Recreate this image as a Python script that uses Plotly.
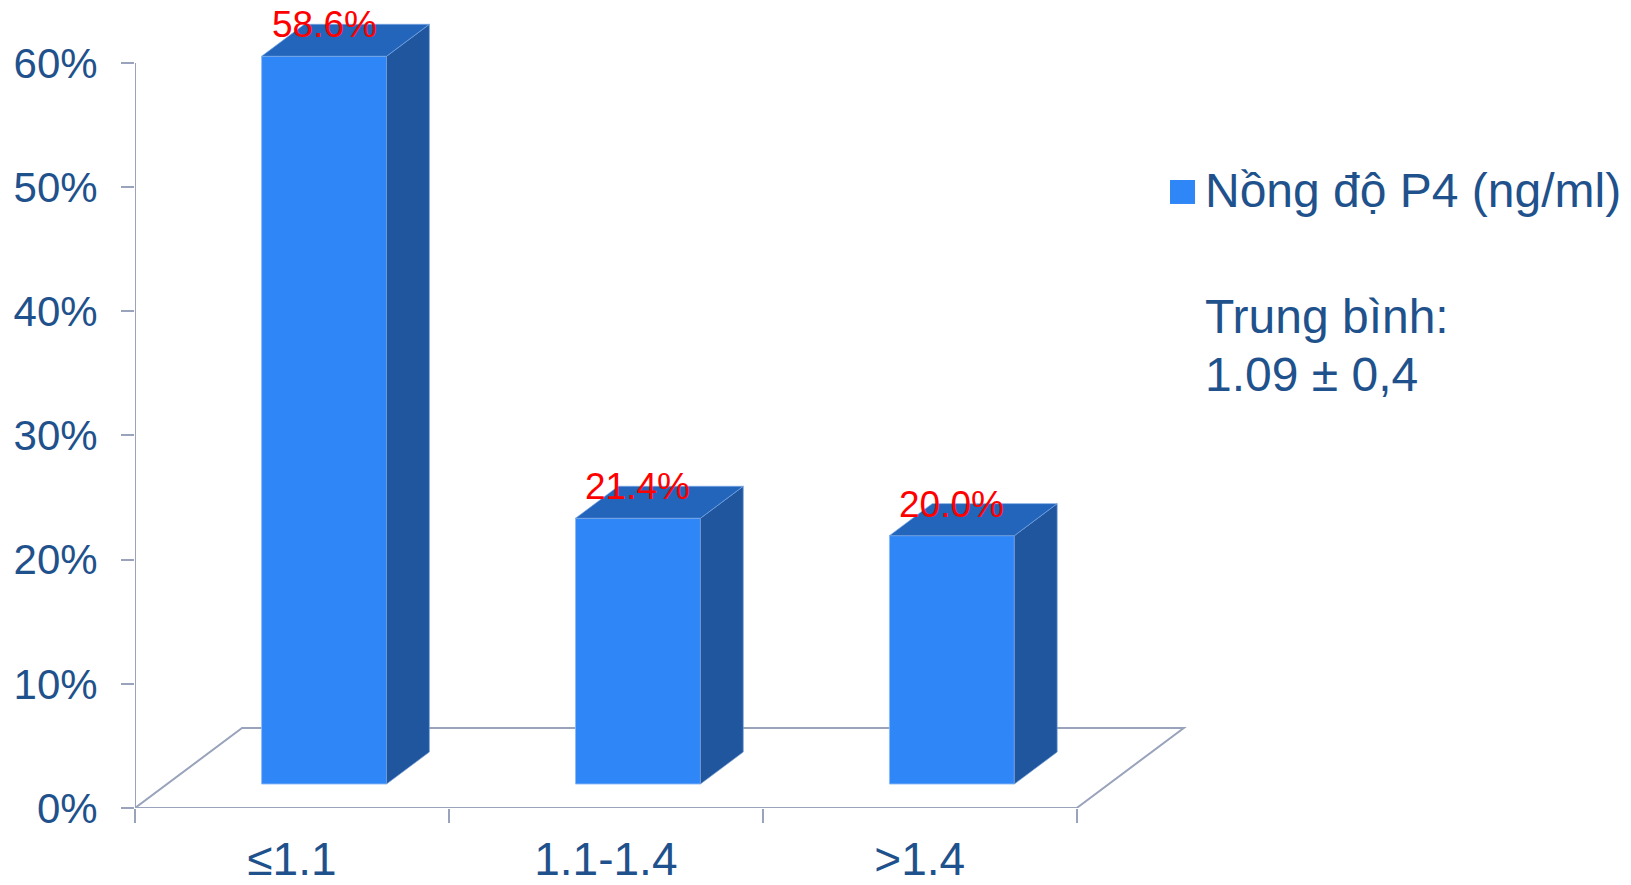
import plotly.graph_objects as go

# ---- data ----
categories = ["≤1.1", "1.1-1.4", ">1.4"]
values = [58.6, 21.4, 20.0]
value_labels = ["58.6%", "21.4%", "20.0%"]
y_ticks = [0, 10, 20, 30, 40, 50, 60]
y_tick_labels = ["0%", "10%", "20%", "30%", "40%", "50%", "60%"]
series_name = "Nồng độ P4 (ng/ml)"
note_lines = ["Trung bình:", "1.09 ± 0,4"]

# ---- style / geometry constants ----
FONT = "Liberation Sans, Arial, sans-serif"
TXT = "#1F528C"
AXC = "#9AA3BC"
C_FRONT = "#2F86F7"
C_TOP = "#2365BB"
C_SIDE = "#1F569D"
FLOOR_DX, FLOOR_DY = 0.341, 6.44      # floor depth in axis units
FRONT, DEPTH = 0.3, 0.4                # bar position within floor depth
BAR_W = 0.398

n = len(categories)
fdx, fdy = FRONT * FLOOR_DX, FRONT * FLOOR_DY
ddx, ddy = DEPTH * FLOOR_DX, DEPTH * FLOOR_DY
centers = [i + 0.5 + fdx for i in range(n)]
tops = [v + fdy for v in values]

fig = go.Figure()

# front faces
fig.add_trace(go.Bar(
    x=centers, y=values, base=fdy, width=BAR_W,
    marker=dict(color=C_FRONT, line=dict(color="rgba(140,185,245,0.9)", width=1)),
    name=series_name, showlegend=False, hoverinfo="skip"))

# side faces and top faces
sx, sy, tx, ty = [], [], [], []
for c, t in zip(centers, tops):
    xl, xr = c - BAR_W / 2, c + BAR_W / 2
    sx += [xr, xr + ddx, xr + ddx, xr, xr, None]
    sy += [fdy, fdy + ddy, t + ddy, t, fdy, None]
    tx += [xl, xr, xr + ddx, xl + ddx, xl, None]
    ty += [t, t, t + ddy, t + ddy, t, None]
fig.add_trace(go.Scatter(x=sx, y=sy, fill="toself", fillcolor=C_SIDE, mode="lines",
                         line=dict(color="rgba(120,160,220,0.7)", width=1),
                         showlegend=False, hoverinfo="skip"))
fig.add_trace(go.Scatter(x=tx, y=ty, fill="toself", fillcolor=C_TOP, mode="lines",
                         line=dict(color="rgba(120,165,230,0.7)", width=1),
                         showlegend=False, hoverinfo="skip"))

# vertical axis line
fig.add_trace(go.Scatter(x=[0, 0], y=[0, y_ticks[-1]], mode="lines",
                         line=dict(color=AXC, width=2), showlegend=False, hoverinfo="skip"))

# floor
fig.add_shape(type="path", layer="below", xref="x", yref="y",
              path=f"M 0,0 L {n},0 L {n + FLOOR_DX},{FLOOR_DY} L {FLOOR_DX},{FLOOR_DY} Z",
              line=dict(color=AXC, width=2))

# data labels
for c, t, lab in zip(centers, tops, value_labels):
    fig.add_annotation(x=c, y=t, text=lab, showarrow=False, xanchor="center",
                       yanchor="bottom", yshift=9,
                       font=dict(family=FONT, size=37, color="#FF0000"))

# legend (manual, large marker)
fig.add_shape(type="rect", xref="paper", yref="paper",
              x0=0.9557, x1=0.9788, y0=0.7541, y1=0.784,
              fillcolor=C_FRONT, line=dict(width=0))
fig.add_annotation(xref="paper", yref="paper", x=0.9858, y=0.7703, text=series_name,
                   showarrow=False, xanchor="left", yanchor="middle",
                   font=dict(family=FONT, size=48, color=TXT))
for k, line in enumerate(note_lines):
    fig.add_annotation(xref="paper", yref="paper", x=0.9858, y=[0.613, 0.5418][k],
                       text=line, showarrow=False, xanchor="left", yanchor="middle",
                       font=dict(family=FONT, size=48, color=TXT))

fig.update_layout(
    width=1631, height=885,
    margin=dict(l=135, r=413, t=7, b=77, autoexpand=False),
    paper_bgcolor="white", plot_bgcolor="white",
    barmode="overlay", showlegend=False,
    xaxis=dict(range=[0, 3.45], tickmode="array", automargin=False,
               tickvals=[i + 0.5 for i in range(n)], ticktext=categories,
               ticks="", showgrid=False, zeroline=False, showline=False,
               tickfont=dict(family=FONT, size=46, color=TXT),
               ticklabelstandoff=20,
               minor=dict(tickmode="array", tickvals=list(range(n + 1)),
                          ticks="outside", ticklen=14, tickwidth=2, tickcolor=AXC,
                          showgrid=False)),
    yaxis=dict(range=[0, 64.5], tickmode="array", tickvals=y_ticks, ticktext=y_tick_labels,
               automargin=False,
               ticks="outside", ticklen=13, tickwidth=2, tickcolor=AXC,
               showgrid=False, zeroline=False, showline=False,
               tickfont=dict(family=FONT, size=42, color=TXT),
               ticklabelstandoff=15),
)

fig.write_html("out.html", config={"displayModeBar": False},
               post_script="document.body.style.margin='0';")
